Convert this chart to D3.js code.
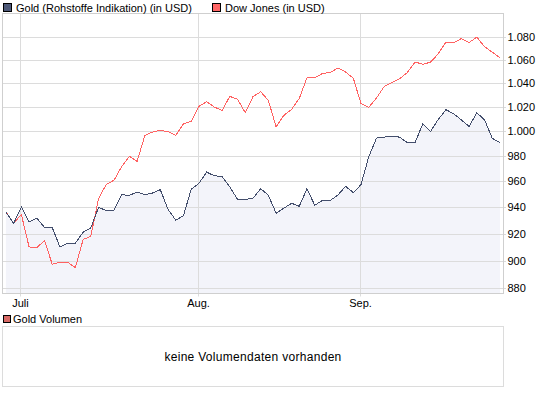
<!DOCTYPE html>
<html>
<head>
<meta charset="utf-8">
<script src="https://cdn.jsdelivr.net/npm/d3@7"></script>
<style>
  html, body { margin: 0; padding: 0; background: #fff; }
  svg { display: block; font-family: "Liberation Sans", Arial, sans-serif; }
</style>
</head>
<body>
<svg id="chart" width="545" height="395"></svg>
<script>
// ---- data ----
const monthLabels = ["Juli", "Aug.", "Sep."];
const monthIndex = [2, 25, 46];
const yTickValues = [880, 900, 920, 940, 960, 980, 1000, 1020, 1040, 1060, 1080];
const seriesNames = ["Gold (Rohstoffe Indikation) (in USD)", "Dow Jones (in USD)"];
const volumeLegend = "Gold Volumen";
const volumeMessage = "keine Volumendaten vorhanden";

const gold = [936.4, 927.7, 940.3, 928.9, 931.9, 924.7, 924.7, 910.2, 913.0, 913.0,
  921.1, 924.5, 939.8, 937.7, 937.7, 949.6, 949.2, 951.8, 949.8, 951.0,
  953.6, 938.5, 930.2, 933.6, 954.0, 958.5, 967.3, 964.4, 963.8, 955.7,
  946.1, 946.1, 946.9, 954.4, 949.2, 935.5, 939.3, 943.1, 940.8, 954.4,
  941.6, 945.2, 945.2, 949.4, 956.2, 951.3, 957.5, 979.5, 994.4, 995.2,
  995.8, 995.2, 990.7, 990.7, 1006.1, 999.8, 1009.6, 1017.6, 1014.3, 1009.2,
  1003.9, 1015.1, 1009.2, 994.2, 990.7];

const dow = [936.4, 927.9, 934.5, 910.2, 909.6, 915.0, 897.5, 898.9, 898.9, 895.1,
  915.7, 918.2, 946.7, 957.7, 960.9, 971.8, 979.8, 975.8, 996.6, 999.3,
  1000.7, 999.6, 996.6, 1006.1, 1008.0, 1020.3, 1024.3, 1019.8, 1017.0, 1028.7,
  1026.4, 1015.1, 1028.4, 1032.6, 1025.3, 1003.5, 1012.9, 1017.9, 1027.0, 1044.4,
  1044.4, 1048.0, 1048.9, 1052.7, 1049.3, 1044.0, 1022.6, 1019.5, 1027.4, 1037.0,
  1040.4, 1043.5, 1048.9, 1057.9, 1055.9, 1057.7, 1064.9, 1075.2, 1074.6, 1078.2,
  1074.8, 1079.4, 1071.1, 1066.3, 1061.5];

// ---- layout ----
const svg = d3.select("#chart");
const plot = { left: 2.5, right: 503.5, top: 13.5, bottom: 293.5 };
const colors = {
  grid: "#dcdcdc", border: "#cfcfcf", fill: "#f3f4fa",
  gold: "#434e6c", dow: "#ff6262", goldKey: "#4d5877", dowKey: "#ff6666", volKey: "#d86a66"
};

const x = d3.scaleLinear().domain([0, gold.length - 1]).range([5.9, 500]);
const y = d3.scaleLog().domain([876.4, 1100.4]).range([plot.bottom, plot.top]);

const de = d3.formatLocale({ decimal: ",", thousands: ".", grouping: [3], currency: ["", " €"] });
const fmt = de.format(",d");

// fill under gold
const area = d3.area()
  .x((d, i) => x(i))
  .y0(plot.bottom)
  .y1(d => y(d));
svg.append("path").datum(gold).attr("d", area).attr("fill", colors.fill);

// horizontal grid via axis
const yAxis = d3.axisRight(y)
  .tickValues(yTickValues)
  .tickFormat(fmt)
  .tickSize(-(plot.right - plot.left))
  .tickPadding(4);
const gy = svg.append("g")
  .attr("transform", `translate(${plot.right + 1.5},0)`)
  .call(yAxis);
gy.select(".domain").remove();
gy.selectAll(".tick line").attr("stroke", colors.grid).attr("x2", -(plot.right - plot.left) - 1.5).attr("x1", 1);
gy.selectAll(".tick").attr("transform", d => `translate(0,${Math.round(y(d)) + 0.5})`);
gy.selectAll(".tick text")
  .attr("font-size", 11).attr("fill", "#000")
  .attr("font-family", "Liberation Sans, Arial, sans-serif")
  .attr("x", 2.5);

// vertical grid via axis
const xAxis = d3.axisBottom(x)
  .tickValues(monthIndex)
  .tickFormat((d, i) => monthLabels[i])
  .tickSize(plot.bottom - plot.top + 3)
  .tickPadding(3);
const gx = svg.append("g")
  .attr("transform", `translate(0,${plot.top})`)
  .call(xAxis);
gx.select(".domain").remove();
gx.selectAll(".tick").attr("transform", d => `translate(${Math.round(x(d)) - 0.5},0)`);
gx.selectAll(".tick line").attr("stroke", colors.grid);
gx.selectAll(".tick text")
  .attr("font-size", 11).attr("fill", "#000")
  .attr("font-family", "Liberation Sans, Arial, sans-serif");

// plot border
svg.append("rect")
  .attr("x", plot.left).attr("y", plot.top)
  .attr("width", plot.right - plot.left).attr("height", plot.bottom - plot.top)
  .attr("fill", "none").attr("stroke", colors.border);

// lines
const line = d3.line().x((d, i) => x(i)).y(d => y(d));
svg.append("path").datum(dow).attr("d", line)
  .attr("fill", "none").attr("stroke", colors.dow).attr("stroke-width", 1)
  .attr("shape-rendering", "crispEdges");
svg.append("path").datum(gold).attr("d", line)
  .attr("fill", "none").attr("stroke", colors.gold).attr("stroke-width", 1)
  .attr("shape-rendering", "crispEdges");

// top legend
const legendItems = [
  { name: seriesNames[0], color: colors.goldKey, x: 3.5 },
  { name: seriesNames[1], color: colors.dowKey, x: 212.5 }
];
const lg = svg.append("g");
legendItems.forEach(it => {
  lg.append("rect").attr("x", it.x).attr("y", 3.5).attr("width", 8).attr("height", 8)
    .attr("fill", it.color).attr("stroke", "#000");
  lg.append("text").attr("x", it.x + 12.5).attr("y", 11.5)
    .attr("font-size", 11).attr("fill", "#000").text(it.name);
});

// volume panel
svg.append("rect").attr("x", 3.5).attr("y", 315.5).attr("width", 7).attr("height", 7)
  .attr("fill", colors.volKey).attr("stroke", "#000");
svg.append("text").attr("x", 13).attr("y", 323).attr("font-size", 11).attr("fill", "#000").text(volumeLegend);
svg.append("rect").attr("x", 2.5).attr("y", 326.5).attr("width", 501).attr("height", 60)
  .attr("fill", "#fff").attr("stroke", colors.grid);
svg.append("text").attr("x", 253).attr("y", 360.5).attr("text-anchor", "middle")
  .attr("font-size", 12).attr("letter-spacing", 0.3).attr("fill", "#000").text(volumeMessage);
</script>
</body>
</html>
